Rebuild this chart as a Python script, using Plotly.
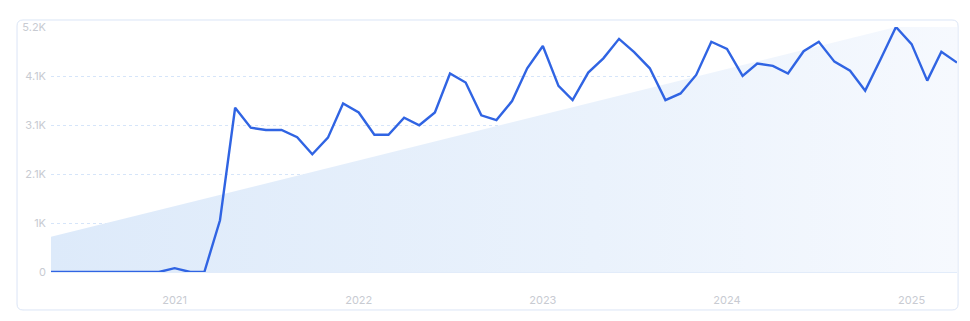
import plotly.graph_objects as go
import pandas as pd

# ---- data ----
months = pd.date_range("2020-05-01", "2025-04-01", freq="MS").strftime("%Y-%m-%d").tolist()
values = [
    0, 0, 0, 0, 0, 0, 0, 0,                                   # 2020-05 .. 2020-12
    80, 0, 0, 1090, 3460, 3040, 2990, 2990, 2840, 2480, 2830, 3550,   # 2021
    3360, 2890, 2890, 3250, 3090, 3360, 4180, 3990, 3300, 3200, 3600, 4290,  # 2022
    4760, 3920, 3620, 4200, 4500, 4910, 4630, 4290, 3620, 3760, 4150, 4850,  # 2023
    4700, 4130, 4390, 4340, 4180, 4650, 4850, 4430, 4240, 3820, 4490, 5160,  # 2024
    4800, 4030, 4640, 4410,                                   # 2025-01 .. 2025-04
]
trend_dates = ["2020-05-01", "2024-12-01", "2025-04-01"]
trend_values = [740, 5160, 5160]

y_tick_vals = [0, 1032, 2064, 3096, 4128, 5160]
y_tick_text = ["0", "1K", "2.1K", "3.1K", "4.1K", "5.2K"]
x_tick_vals = ["2021-01-01", "2022-01-01", "2023-01-01", "2024-01-01", "2025-01-01"]
x_tick_text = ["2021", "2022", "2023", "2024", "2025"]

fig = go.Figure()

fig.add_trace(go.Scatter(
    x=trend_dates, y=trend_values, mode="lines",
    line=dict(width=0), fill="tozeroy",
    fillgradient=dict(type="horizontal",
                      colorscale=[[0, "rgb(221,234,250)"], [0.6, "rgb(234,242,252)"], [1, "rgb(246,249,254)"]]),
    hoverinfo="skip", showlegend=False,
))

fig.add_trace(go.Scatter(
    x=months, y=values, mode="lines",
    line=dict(color="#3064e3", width=2.4),
    showlegend=False,
))

# card border (rounded rectangle in paper coords)
x0, x1, y0, y1 = -0.0375, 1.0012, -0.155, 1.0286
rx, ry = 6 / 906, 6 / 245
path = (f"M {x0+rx},{y0} L {x1-rx},{y0} Q {x1},{y0} {x1},{y0+ry} "
        f"L {x1},{y1-ry} Q {x1},{y1} {x1-rx},{y1} "
        f"L {x0+rx},{y1} Q {x0},{y1} {x0},{y1-ry} "
        f"L {x0},{y0+ry} Q {x0},{y0} {x0+rx},{y0} Z")
fig.add_shape(type="path", path=path, xref="paper", yref="paper",
              line=dict(color="#dbe5f6", width=1), layer="below")

fig.update_layout(
    width=970, height=321,
    margin=dict(l=51, r=13, t=27, b=49),
    paper_bgcolor="white", plot_bgcolor="white",
    font=dict(family="Inter", size=11, color="#c8cbd2"),
    xaxis=dict(
        type="date",
        range=["2020-05-01", "2025-04-01"],
        tickvals=x_tick_vals, ticktext=x_tick_text,
        showgrid=False, zeroline=False,
        showline=True, linecolor="#e2ecfa", linewidth=1,
        ticks="", ticklabelstandoff=18,
        tickfont=dict(size=11, color="#c8cbd2"),
    ),
    yaxis=dict(
        range=[0, 5160],
        tickvals=y_tick_vals, ticktext=y_tick_text,
        showgrid=True, gridcolor="#d6e5f9", griddash="3px,3px", gridwidth=1,
        zeroline=False, showline=False, ticks="",
        ticklabelstandoff=4,
        tickfont=dict(size=11, color="#c8cbd2"),
    ),
)

fig.write_html("out.html")
